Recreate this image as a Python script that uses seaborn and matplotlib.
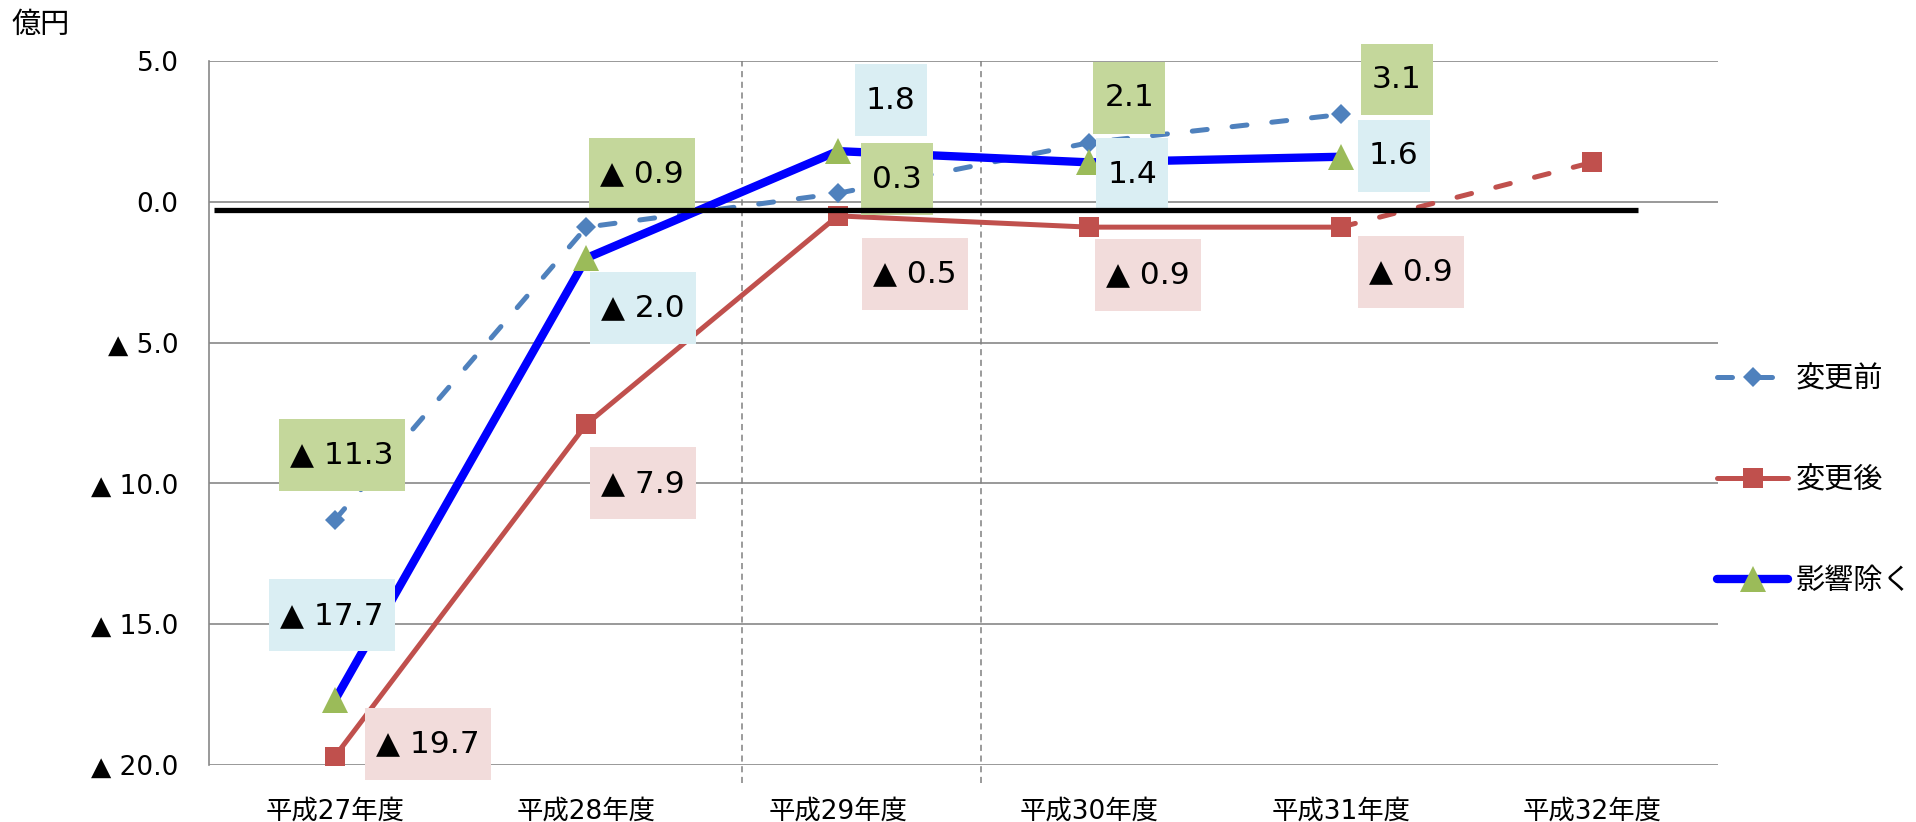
import numpy as np
import pandas as pd
import matplotlib
matplotlib.use("Agg")
import matplotlib.pyplot as plt
from matplotlib.path import Path
import seaborn as sns

# ── Data ─────────────────────────────────────────────────────────────────
years = ["平成27年度", "平成28年度", "平成29年度", "平成30年度", "平成31年度", "平成32年度"]
before = [-11.3, -0.9, 0.3, 2.1, 3.1, np.nan]      # 変更前
after = [-19.7, -7.9, -0.5, -0.9, -0.9, 1.4]       # 変更後 (last year dashed)
excl = [-17.7, -2.0, 1.8, 1.4, 1.6, np.nan]        # 影響除く
series_names = ["変更前", "変更後", "影響除く"]
unit = "億円"
yticks = [5.0, 0.0, -5.0, -10.0, -15.0, -20.0]

# ── Style ────────────────────────────────────────────────────────────────
sns.set_theme(style="white")
plt.rcParams["font.family"] = ["DejaVu Sans", "Noto Sans CJK JP"]
plt.rcParams["text.color"] = "black"
plt.rcParams["xtick.color"] = "black"
plt.rcParams["ytick.color"] = "black"

BLUE = "#4F81BD"
RED = "#C0504D"
PURE_BLUE = "#0000FF"
GREEN = "#9BBB59"
BOX_GREEN = "#C4D79B"
BOX_BLUE = "#DAEEF3"
BOX_PINK = "#F2DCDB"
GRID = "#888888"


def fmt(v):
    return f"▲ {abs(v):.1f}" if v < 0 else f"{v:.1f}"


def excel_box(x0, y0, width, height, mutation_size):
    # fixed-height box, modest side padding (like Excel data labels)
    px = 0.36 * mutation_size
    h = 2.3 * mutation_size
    cy = y0 + height / 2
    x1, x2 = x0 - px, x0 + width + px
    y1, y2 = cy - h / 2, cy + h / 2
    return Path([(x1, y1), (x2, y1), (x2, y2), (x1, y2), (x1, y1)], closed=True)


df = pd.DataFrame({"x": np.arange(len(years)), "before": before,
                   "after": after, "excl": excl})

fig = plt.figure(figsize=(19.16, 8.22), dpi=100)
ax = fig.add_axes([0.1091, 0.0693, 0.7876, 0.8565])

dash = (0, (3, 5))
sns.lineplot(data=df, x="x", y="before", ax=ax, color=BLUE, linewidth=3.6,
             linestyle=dash, dash_capstyle="round", marker="D", markersize=10,
             markeredgewidth=0, legend=False, label=series_names[0], zorder=3)
sns.lineplot(data=df.iloc[4:], x="x", y="after", ax=ax, color=RED, linewidth=3.6,
             linestyle=dash, dash_capstyle="round", marker="s", markersize=14,
             markeredgewidth=0, legend=False, zorder=3)
sns.lineplot(data=df.iloc[:5], x="x", y="after", ax=ax, color=RED, linewidth=3.6,
             marker="s", markersize=14, markeredgewidth=0, legend=False,
             label=series_names[1], zorder=3)
sns.lineplot(data=df, x="x", y="excl", ax=ax, color=PURE_BLUE, linewidth=6,
             solid_capstyle="round", marker="^", markersize=19, markerfacecolor=GREEN,
             markeredgewidth=0, legend=False, label=series_names[2], zorder=4)

# ── Data labels (offsets in pixels from the point) ───────────────────────
label_specs = [
    (before, BOX_GREEN, [(7, 65), (56, 53), (59, 14), (40, 45), (56, 35)]),
    (excl, BOX_BLUE, [(-3, 85), (57, -50), (53, 51), (43, -12), (53, 1)]),
    (after, BOX_PINK, [(93, 13), (57, -59), (77, -58), (59, -48), (70, -45)]),
]
for values, fc, offsets in label_specs:
    for i, off in enumerate(offsets):
        ax.annotate(fmt(values[i]), (i, values[i]), xytext=off,
                    textcoords="offset pixels", ha="center", va="center",
                    fontsize=22.5, color="black", zorder=5,
                    bbox=dict(boxstyle=excel_box, fc=fc, ec="none"))

# thick black reference bar just below zero and the dashed separators
ax.hlines(-0.28, -0.48, 5.18, color="black", linewidth=3.8, zorder=6)
for xv in (1.62, 2.57):
    ax.axvline(xv, ymin=-0.026, ymax=1, color="#808080", linewidth=1.1,
               linestyle=(0, (4, 3)), clip_on=False, zorder=1)

# ── Axes ─────────────────────────────────────────────────────────────────
ax.set_xlim(-0.5, len(years) - 0.5)
ax.set_ylim(-20, 5)
ax.set_xticks(df["x"])
ax.set_xticklabels(years, fontsize=19)
ax.set_yticks(yticks)
ax.set_yticklabels([fmt(v) for v in yticks], fontsize=19)
ax.set_xlabel("")
ax.set_ylabel("")
ax.tick_params(axis="x", length=0, pad=24, colors="black")
ax.tick_params(axis="y", length=0, pad=22, colors="black")
ax.yaxis.grid(True, color=GRID, linewidth=1.2, zorder=0)
ax.xaxis.grid(False)
for side in ("top", "right", "bottom"):
    ax.spines[side].set_visible(False)
ax.spines["left"].set_color(GRID)
ax.spines["left"].set_linewidth(1.2)

fig.text(41 / 1916, 1 - 25 / 822, unit, ha="center", va="center", fontsize=21)

handles, labels = ax.get_legend_handles_labels()
fig.legend(handles, labels, loc="center left", bbox_to_anchor=(1717 / 1916, 1 - 480 / 822),
           frameon=False, fontsize=21, borderpad=0, borderaxespad=0,
           handlelength=2.45, handletextpad=0.25, labelspacing=2.5, numpoints=1)

fig.savefig("out.png", dpi=100)
